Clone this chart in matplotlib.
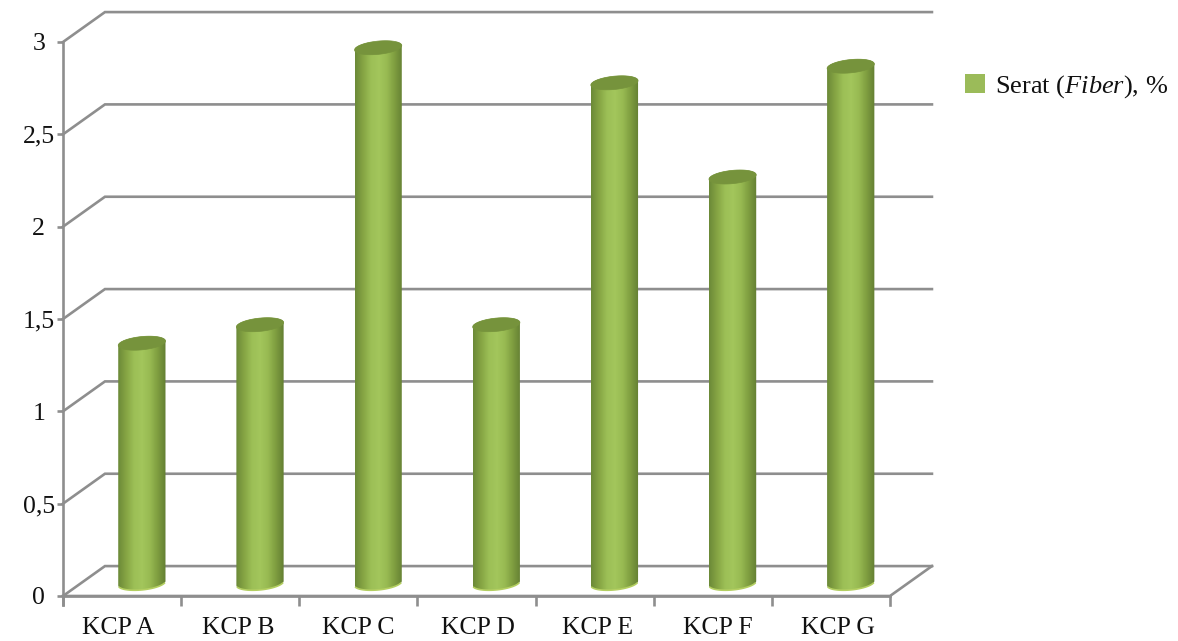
import numpy as np
import matplotlib
matplotlib.use("Agg")
import matplotlib.pyplot as plt
from matplotlib.colors import LinearSegmentedColormap
from matplotlib.patches import Polygon, Patch

plt.rcParams['font.family'] = ['Liberation Serif', 'DejaVu Serif']
plt.rcParams['mathtext.fontset'] = 'custom'
plt.rcParams['mathtext.rm'] = 'Liberation Serif'
plt.rcParams['mathtext.it'] = 'Liberation Serif:italic'

categories = ['KCP A', 'KCP B', 'KCP C', 'KCP D', 'KCP E', 'KCP F', 'KCP G']
values = [1.3, 1.4, 2.9, 1.4, 2.71, 2.2, 2.8]
yticks = [0, 0.5, 1, 1.5, 2, 2.5, 3]
ylabels = ['0', '0,5', '1', '1,5', '2', '2,5', '3']
series_name = r'Serat ($\mathit{Fiber}$), %'

# fake 3d: depth of the box in axis units
depth_x = 0.355
depth_y = 0.162
bar_rx = 0.2
bar_ry = 0.036
bar_tilt = 0.012
grey = '#8e8e8e'

W, H = 1178, 641
fig = plt.figure(figsize=(W/100, H/100), dpi=100)
ax = fig.add_axes([63/W, 1-596/H, 827/W, 554/H])

bar_cmap = LinearSegmentedColormap.from_list(
    'cyl', ['#6c8a38', '#86a544', '#9cbf56', '#a3c65c', '#98ba52', '#7f9e40', '#647f33'])
grad = np.linspace(0, 1, 64).reshape(1, -1)

def ring(cx, cy, t):
    return np.column_stack([cx + bar_rx*np.cos(t), cy + bar_ry*np.sin(t) + bar_tilt*np.cos(t)])

# walls and floor
for v in yticks:
    ax.plot([0, depth_x, 7+depth_x], [v, v+depth_y, v+depth_y], color=grey, lw=1.9,
            clip_on=False, zorder=1, solid_joinstyle='miter')
ax.plot([0, 7, 7+depth_x], [0, 0, depth_y], color=grey, lw=1.9, clip_on=False, zorder=1)
ax.plot([7, 7], [0, -0.05], color=grey, lw=1.9, clip_on=False, zorder=1)

# cylinders
for i, v in enumerate(values):
    cx = i + 0.5 + depth_x/2 - 0.01
    base = depth_y/2 - 0.012
    top = base + v
    outline = np.vstack([ring(cx, base, np.linspace(np.pi, 2*np.pi, 40)),
                         ring(cx, top, np.linspace(0, np.pi, 40))])
    im = ax.imshow(grad, cmap=bar_cmap, aspect='auto', zorder=3, clip_on=True,
                   extent=[cx-bar_rx, cx+bar_rx, base-bar_ry-0.03, top+bar_ry+0.03])
    body = Polygon(outline, closed=True, fc='none', ec='none', transform=ax.transData)
    ax.add_patch(body)
    im.set_clip_path(body)
    ax.plot(*ring(cx, base, np.linspace(np.pi*1.1, np.pi*1.9, 30)).T, color='#b4cf62', lw=1.2,
            zorder=4, clip_on=False)
    cap = ring(cx, top, np.linspace(0, 2*np.pi, 60))
    ax.add_patch(Polygon(cap, closed=True, fc='#76933c', ec='#76933c', lw=0.5, zorder=5, clip_on=False))

ax.set_xlim(0, 7)
ax.set_ylim(0, 3)
for s in ['top', 'right']:
    ax.spines[s].set_visible(False)
for s in ['left', 'bottom']:
    ax.spines[s].set_color(grey)
    ax.spines[s].set_linewidth(1.9)
    ax.spines[s].set_zorder(2)
ax.spines['left'].set_bounds(-0.05, 3)
ax.patch.set_visible(False)

ax.set_yticks(yticks)
ax.set_yticklabels(ylabels, ha='center')
ax.set_xticks(range(7))
ax.set_xticklabels([])
ax.tick_params(axis='y', length=4.5, width=1.9, color=grey, labelsize=18.5, pad=13, labelcolor='#111111')
ax.tick_params(axis='x', length=7, width=1.9, color=grey)
# labels in the original sit a bit wider apart than the ticks
for i, c in enumerate(categories):
    shift = (-4 + 11*i/6)*0.72
    ax.annotate(c, (i+0.5, 0), xytext=(shift, -23), textcoords='offset points', ha='center',
                va='center', fontsize=18.5, color='#111111', annotation_clip=False)

handle = Patch(facecolor='#9bbb59', edgecolor='none', label=series_name)
fig.legend(handles=[handle], loc='center left', bbox_to_anchor=(944/W, 1-87/H), frameon=False,
           fontsize=19, handlelength=0.75, handleheight=0.75, handletextpad=0.4,
           labelcolor='#111111', borderpad=0.3)

fig.savefig('out.png', dpi=100)
